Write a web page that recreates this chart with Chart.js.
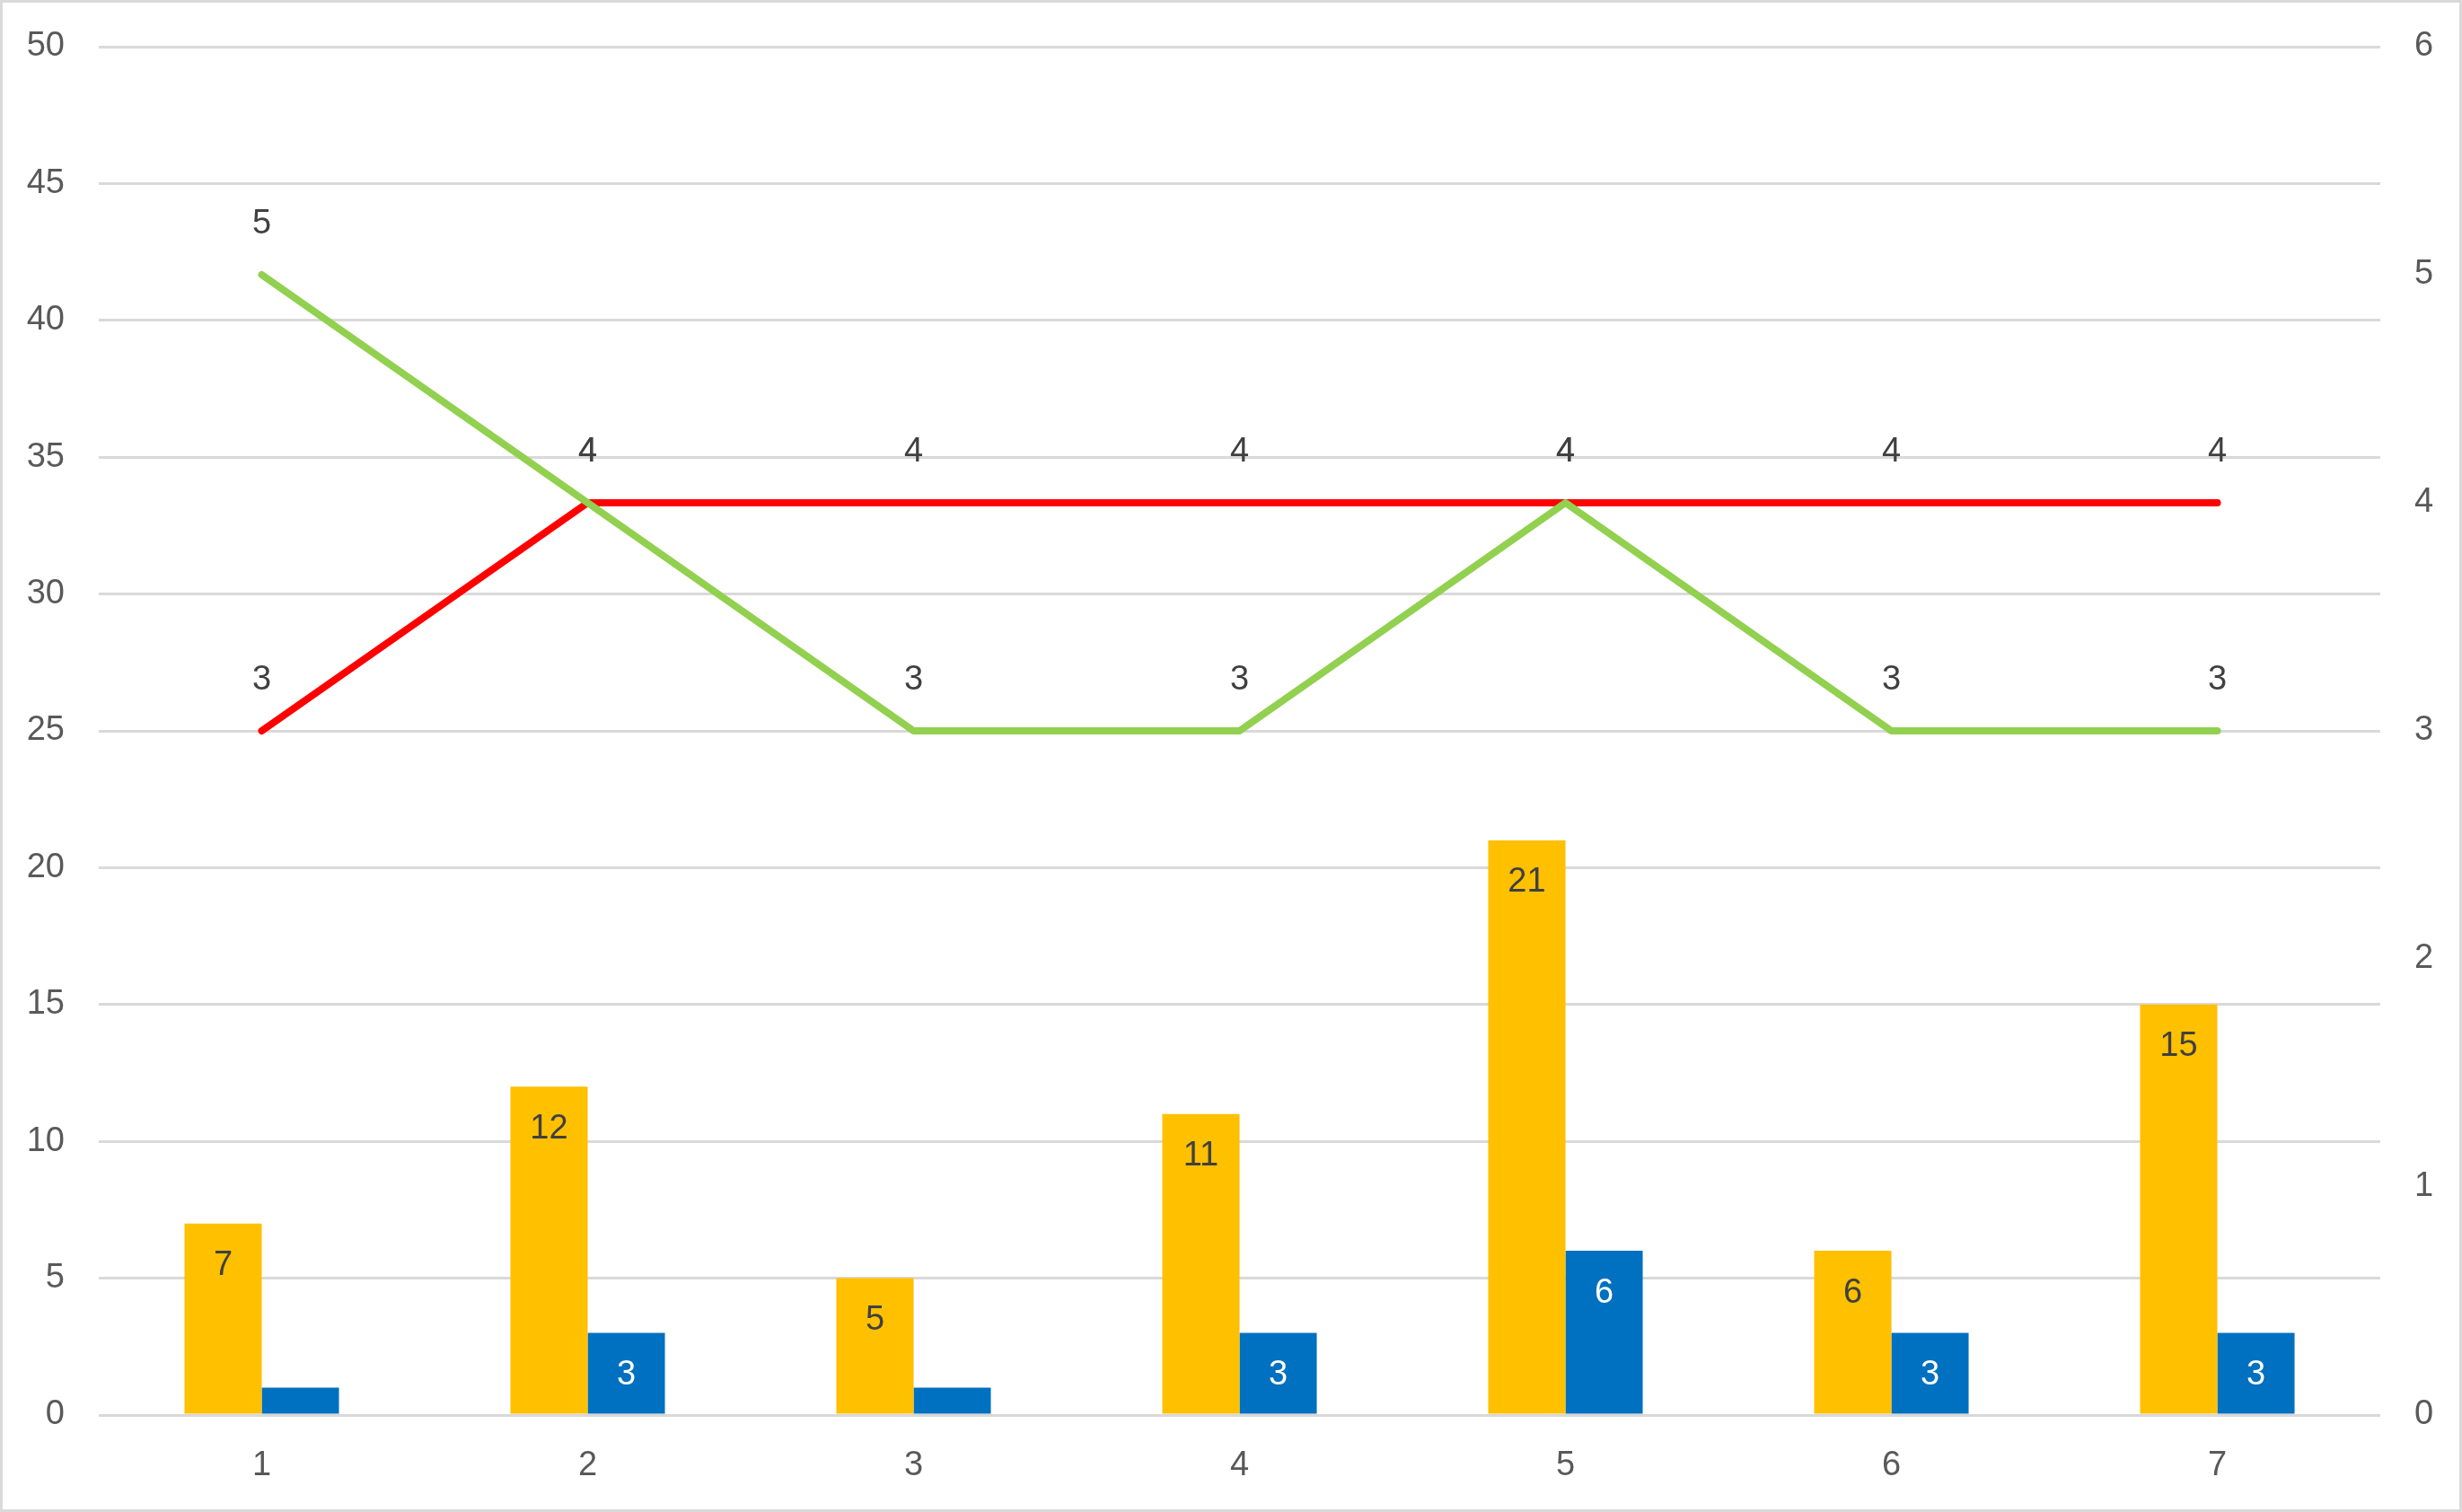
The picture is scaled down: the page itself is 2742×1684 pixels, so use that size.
<!DOCTYPE html>
<html>
<head>
<meta charset="utf-8">
<script src="https://cdn.jsdelivr.net/npm/chart.js@4.4.1/dist/chart.umd.min.js"></script>
<style>
  html, body { margin:0; padding:0; background:#fff; }
  #wrap { position:relative; width:2742px; height:1684px; box-sizing:border-box; border:3px solid #d9d9d9; }
  canvas { display:block; }
</style>
</head>
<body>
<div id="wrap"><canvas id="combo"></canvas></div>
<script>
// values
const categories = ['1','2','3','4','5','6','7'];
const yellowBars = [7, 12, 5, 11, 21, 6, 15];
const blueBars   = [1, 3, 1, 3, 6, 3, 3];
const redLine    = [3, 4, 4, 4, 4, 4, 4];
const greenLine  = [5, 4, 3, 3, 4, 3, 3];

const FONT = "'Liberation Sans', Arial, sans-serif";

// simple value labels (no datalabels plugin available offline)
const valueLabels = {
  id: 'valueLabels',
  afterDatasetsDraw(chart){
    const ctx = chart.ctx;
    ctx.save();
    ctx.font = '38px ' + FONT;
    ctx.textAlign = 'center';
    ctx.textBaseline = 'middle';
    chart.data.datasets.forEach((ds, i) => {
      const meta = chart.getDatasetMeta(i);
      meta.data.forEach((el, j) => {
        const v = ds.data[j];
        if(ds.type === 'bar'){
          if(v < 2) return; // too short for a label
          ctx.fillStyle = ds.labelColor;
          ctx.fillText(String(v), el.x, el.y + 47);
        } else {
          ctx.fillStyle = '#404040';
          ctx.fillText(String(v), el.x, el.y - 56);
        }
      });
    });
    ctx.restore();
  }
};

new Chart(document.getElementById('combo'), {
  data: {
    labels: categories,
    datasets: [
      { type:'line', data: redLine, yAxisID:'y1', borderColor:'#ff0000', borderWidth:8, pointRadius:0, borderCapStyle:'round', borderJoinStyle:'round', order:1 },
      { type:'line', data: greenLine, yAxisID:'y1', borderColor:'#92d050', borderWidth:8, pointRadius:0, borderCapStyle:'round', borderJoinStyle:'round', order:0 },
      { type:'bar', data: yellowBars, yAxisID:'y', backgroundColor:'#ffc000', labelColor:'#404040', categoryPercentage:0.474, barPercentage:1, order:2 },
      { type:'bar', data: blueBars, yAxisID:'y', backgroundColor:'#0070c0', labelColor:'#ffffff', categoryPercentage:0.474, barPercentage:1, order:3 }
    ]
  },
  options: {
    responsive:true,
    maintainAspectRatio:false,
    animation:false,
    layout:{ padding:{ top:49, left:0, right:0, bottom:0 } },
    plugins:{ legend:{ display:false }, tooltip:{ enabled:false } },
    scales:{
      x:{
        grid:{ display:false, drawTicks:false },
        border:{ display:false },
        ticks:{ color:'#595959', font:{ family:FONT, size:38 }, padding:34 },
        afterFit(s){ s.height = 105; }
      },
      y:{
        position:'left', min:0, max:50,
        grid:{ color:'#d9d9d9', lineWidth:3, drawTicks:false },
        border:{ display:false },
        ticks:{ stepSize:5, color:'#595959', font:{ family:FONT, size:38, lineHeight:0.5 }, padding:38 },
        afterFit(s){ s.width = 107; }
      },
      y1:{
        position:'right', min:0, max:6,
        grid:{ display:false, drawTicks:false },
        border:{ display:false },
        ticks:{ stepSize:1, color:'#595959', font:{ family:FONT, size:38, lineHeight:0.5 }, padding:38 },
        afterFit(s){ s.width = 88; }
      }
    }
  },
  plugins:[valueLabels]
});
</script>
</body>
</html>
